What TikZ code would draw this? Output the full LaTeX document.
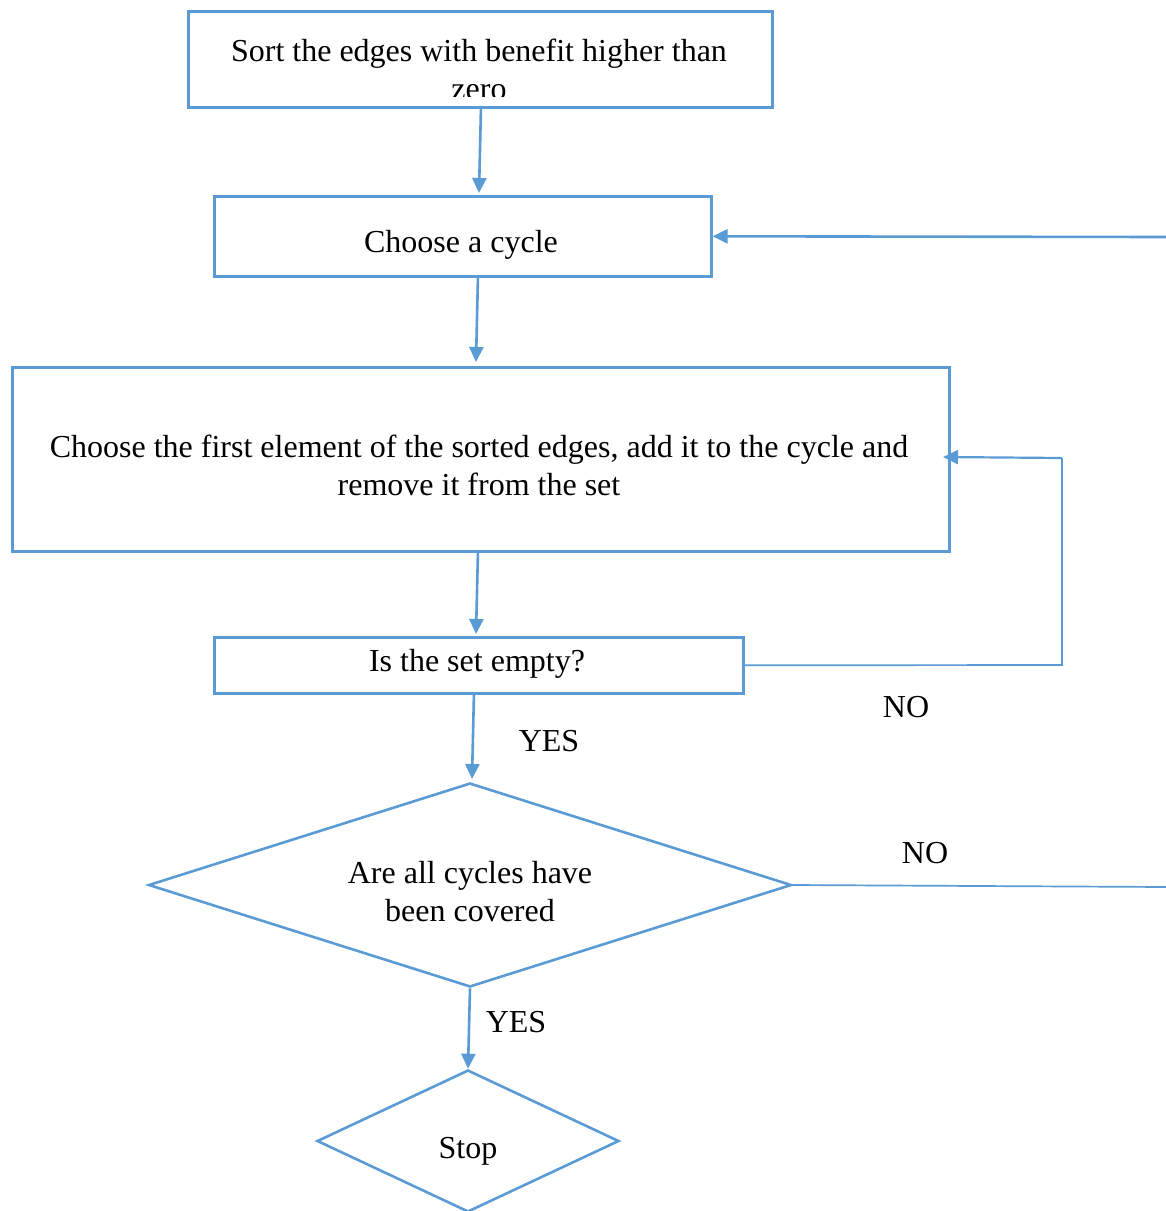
\documentclass[tikz,border=0pt]{standalone}
\usepackage{fontspec}
\setmainfont{Liberation Serif}
\usetikzlibrary{arrows.meta,shapes.geometric}
\definecolor{ofblue}{RGB}{91,155,213}
\begin{document}
\begin{tikzpicture}[x=1pt,y=-1pt,
  box/.style={draw=ofblue,line width=2.6pt,rectangle,inner sep=0pt,anchor=north west},
  dia/.style={draw=ofblue,line width=2.6pt,diamond,inner sep=0pt},
  txt/.style={font=\fontsize{32}{38}\selectfont,align=center,inner sep=0pt,text=black},
  conn/.style={draw=ofblue,line width=2.6pt,-{Triangle[length=15pt,width=14pt]}},
  thin/.style={draw=ofblue,line width=1.7pt}]
\useasboundingbox (0,0) rectangle (1166,1211);
\fill[white] (0,0) rectangle (1166,1211);
% boxes
\node[box,minimum width=584pt,minimum height=96pt] (b1) at (187,10) {};
\begin{scope}
\clip (187,10) rectangle (771,96);
\node[txt] (t1) at (479,69) {Sort the edges with benefit higher than\\zero};
\end{scope}
\node[box,minimum width=497pt,minimum height=80pt] (b2) at (213,195) {};
\node[txt] (t2) at (461,245) {Choose a cycle};
\node[box,minimum width=937pt,minimum height=184pt] (b3) at (11,366) {};
\node[txt] (t3) at (479,465) {Choose the first element of the sorted edges, add it to the cycle and\\remove it from the set};
\node[box,minimum width=529pt,minimum height=56pt] (b4) at (213,636) {};
\node[txt] (t4) at (477,664) {Is the set empty?};
\node[dia,minimum width=643pt,minimum height=204pt] (d1) at (470,885) {};
\node[txt] (t5) at (470,892) {Are all cycles have\\been covered};
\node[dia,minimum width=302pt,minimum height=142pt] (d2) at (468,1141) {};
\node[txt] (t6) at (468,1151) {Stop};
% labels
\node[txt] (no1) at (906,707) {NO};
\node[txt] (yes1) at (549,741) {YES};
\node[txt] (no2) at (925,853) {NO};
\node[txt] (yes2) at (516,1022) {YES};
% coordinates
\coordinate (r2) at (1166,237);
\coordinate (r5) at (1166,887);
\coordinate (c1) at (1062,665);
\coordinate (c2) at (1062,458);
\coordinate (a3) at (943,457);
% connectors
\draw[conn] (481,106) -- (479,193);
\draw[conn] (r2) -- (b2.east);
\draw[conn] (478,275) -- (476,362);
\draw[conn] (478,550) -- (476,634);
\draw[conn] (474,692) -- (472,779);
\draw[conn] (d1.south) -- (d2.north);
\draw[thin] (b4.east) -- (c1) -- (c2);
\draw[conn,line width=2.2pt] (c2) -- (a3);
\draw[thin] (d1.east) -- (r5);
\end{tikzpicture}
\end{document}
